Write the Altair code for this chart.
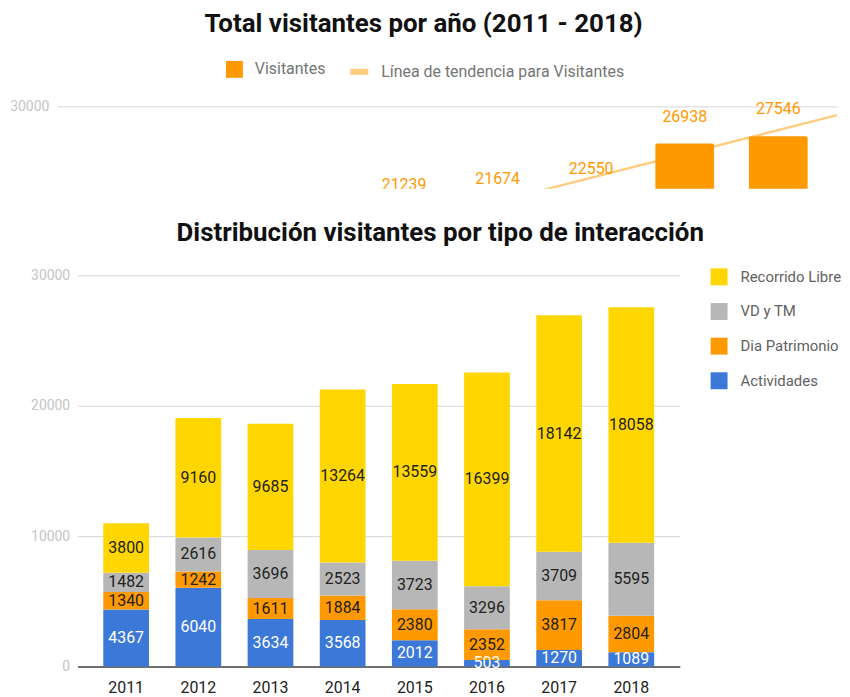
import altair as alt
import pandas as pd

years = ['2011', '2012', '2013', '2014', '2015', '2016', '2017', '2018']
tipos = ['Actividades', 'Dia Patrimonio', 'VD y TM', 'Recorrido Libre']
actividades = [4367, 6040, 3634, 3568, 2012, 503, 1270, 1089]
dia_patrimonio = [1340, 1242, 1611, 1884, 2380, 2352, 3817, 2804]
vd_tm = [1482, 2616, 3696, 2523, 3723, 3296, 3709, 5595]
recorrido_libre = [3800, 9160, 9685, 13264, 13559, 16399, 18142, 18058]
legend_order = ['Recorrido Libre', 'VD y TM', 'Dia Patrimonio', 'Actividades']
colors = ['#FFD600', '#B7B7B7', '#FF9900', '#3C78D8']
top_ticks = [30000]
bottom_ticks = [0, 10000, 20000, 30000]

rows = []
for t_i, (tipo, vals) in enumerate(zip(tipos, [actividades, dia_patrimonio, vd_tm, recorrido_libre])):
    for y_i, (yr, v) in enumerate(zip(years, vals)):
        rows.append({'año': yr, 'idx': y_i, 'tipo': tipo, 'orden': t_i, 'valor': v})
df = pd.DataFrame(rows)
ticks_df = pd.DataFrame({'tick': top_ticks})

FONT = 'Roboto'
GRID = '#D6D6D6'

# ---------- top panel (cropped view of the totals chart) ----------
TOP_W, TOP_H = 763, 96
X_DOM = [-0.489, 7.628]
Y_MIN, Y_MAX = 23142, 31142
base_top = alt.Chart(df).transform_aggregate(total='sum(valor)', groupby=['año', 'idx'])
x_top = alt.X('idx:Q', scale=alt.Scale(domain=X_DOM, nice=False, zero=False, padding=0), axis=None)
ysc_top = alt.Scale(domain=[Y_MIN, Y_MAX], nice=False, zero=False)

grid_top = alt.Chart(ticks_df).mark_rule(color=GRID, strokeWidth=1).encode(
    y=alt.Y('tick:Q', scale=ysc_top,
            axis=alt.Axis(values=top_ticks, format='d', title=None, domain=False, ticks=False, grid=False,
                          labelFontSize=14, labelColor='#C4C4C4', labelPadding=9, offset=20,
                          labelFont=FONT)),
    x=alt.value(-20), x2=alt.value(TOP_W))

bars_top = base_top.transform_calculate(
    serie='"Visitantes"', lo=str(Y_MIN), hi='max(datum.total, %d)' % Y_MIN
).mark_bar(width=59, cornerRadiusTopLeft=2, cornerRadiusTopRight=2).encode(
    x=x_top, y=alt.Y('hi:Q'), y2=alt.Y2('lo:Q'),
    color=alt.Color('serie:N', scale=alt.Scale(domain=['Visitantes'], range=['#FF9900']),
                    legend=alt.Legend(orient='none', legendX=148, legendY=-33.5, title=None,
                                      symbolType='square', symbolSize=289, labelFontSize=16,
                                      labelColor='#757575', labelOffset=11, labelFont=FONT)))

trend = base_top.transform_regression('idx', 'total', extent=[4.5, 7.628]).transform_calculate(
    serie='"Línea de tendencia para Visitantes"').mark_line(clip=True, strokeWidth=2.5, opacity=0.5).encode(
    x=x_top, y=alt.Y('total:Q'),
    stroke=alt.Stroke('serie:N', scale=alt.Scale(domain=['Línea de tendencia para Visitantes'], range=['#FF9900']),
                      legend=alt.Legend(orient='none', legendX=271, legendY=-33.5, title=None,
                                        symbolType='stroke', symbolSize=324, symbolStrokeWidth=6,
                                        symbolOpacity=0.5, labelFontSize=16, labelColor='#757575',
                                        labelOffset=10, labelLimit=400, labelFont=FONT)))

text_top = base_top.mark_text(clip=True, dy=-27, fontSize=16, color='#FF9900', font=FONT).encode(
    x=x_top, y=alt.Y('total:Q'), text=alt.Text('total:Q', format='d'))

top = alt.layer(grid_top, bars_top, trend, text_top).properties(
    width=TOP_W, height=TOP_H,
    title=alt.TitleParams('Total visitantes por año (2011 - 2018)', fontSize=26, font=FONT,
                          fontWeight='bold', color='#111111', anchor='middle', frame='bounds', offset=23))

# ---------- bottom panel (stacked distribution) ----------
base_bot = alt.Chart(df).transform_stack(
    stack='valor', groupby=['año'], sort=[alt.SortField('orden', order='ascending')], as_=['y0', 'y1']
).transform_calculate(mid='(datum.y0 + datum.y1) / 2')

x_bot = alt.X('año:O', scale=alt.Scale(paddingInner=0.366, paddingOuter=0.355),
              axis=alt.Axis(title=None, labelAngle=0, labelFontSize=16, labelColor='#222222', labelFont=FONT,
                            ticks=False, domainColor='#444444', domainWidth=1.5, labelPadding=13, grid=False))
ysc_bot = alt.Scale(domain=[0, 30000], nice=False)

bars_bot = base_bot.mark_bar(cornerRadius=1).encode(
    x=x_bot,
    y=alt.Y('y1:Q', scale=ysc_bot,
            axis=alt.Axis(values=bottom_ticks, format='d', title=None, domain=False, ticks=False,
                          labelFontSize=14, labelColor='#C4C4C4', labelPadding=8, gridColor=GRID,
                          labelFont=FONT)),
    y2='y0:Q',
    color=alt.Color('tipo:N', scale=alt.Scale(domain=legend_order, range=colors),
                    legend=alt.Legend(orient='none', legendX=635, legendY=-8, title=None,
                                      symbolType='square', symbolSize=289, labelFontSize=15,
                                      labelColor='#616161', labelOffset=12, rowPadding=16.8,
                                      direction='vertical', labelFont=FONT)))

text_bot = base_bot.mark_text(fontSize=16, font=FONT).encode(
    x=x_bot, y=alt.Y('mid:Q'),
    text=alt.Text('valor:Q', format='d'),
    color=alt.condition("datum.tipo == 'Actividades'", alt.value('white'), alt.value('#222222')))

bot = alt.layer(bars_bot, text_bot).properties(
    width=605, height=393,
    title=alt.TitleParams('Distribución visitantes por tipo de interacción', fontSize=26, font=FONT,
                          fontWeight='bold', color='#111111', anchor='middle', frame='bounds',
                          offset=22, dx=4))

chart = alt.vconcat(top, bot, spacing=31).resolve_scale(
    color='independent', stroke='independent', x='independent', y='independent'
).resolve_legend(color='independent', stroke='independent').properties(
    padding={'left': 1, 'top': 1, 'right': 0, 'bottom': 0}
).configure(font=FONT).configure_view(stroke=None)

chart.save("out.html", embed_options={"renderer": "svg", "actions": False})
